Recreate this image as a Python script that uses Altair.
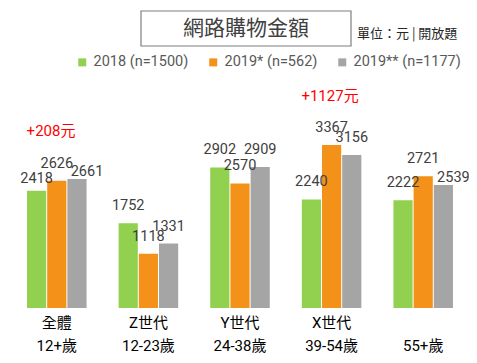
import altair as alt
import pandas as pd

categories = ["全體\n12+歲", "Z世代\n12-23歲", "Y世代\n24-38歲", "X世代\n39-54歲", " \n55+歲"]
series = ["2018 (n=1500)", "2019* (n=562)", "2019** (n=1177)"]
v2018 = [2418, 1752, 2902, 2240, 2222]
v2019a = [2626, 1118, 2570, 3367, 2721]
v2019b = [2661, 1331, 2909, 3156, 2539]
annotations = ["+208元", "", "", "+1127元", ""]
colors = ["#92D050", "#F39119", "#A5A5A5"]

FONT = "Roboto, Noto Sans CJK TC"

rows = []
for i, c in enumerate(categories):
    trio = [v2018[i], v2019a[i], v2019b[i]]
    for k, (s, v) in enumerate(zip(series, trio)):
        # a label is "crowded" when it would collide with the orange label next to it
        crowded = k != 1 and abs(v - trio[1]) < 210
        rows.append({"cat": c, "series": s, "value": v, "k": k, "crowded": crowded})
df = pd.DataFrame(rows)

ann = pd.DataFrame({
    "cat": categories,
    "series": [series[0]] * len(categories),
    "text": annotations,
    "y": [max(a, b, c) + 1000 for a, b, c in zip(v2018, v2019a, v2019b)],
})
ann = ann[ann["text"] != ""]

labels_df = pd.DataFrame({"cat": categories, "y": [0] * len(categories)})

xscale = alt.Scale(domain=categories, paddingInner=0.35, paddingOuter=0.175)
yscale = alt.Scale(domain=[0, 4500])
x = alt.X("cat:N", scale=xscale, axis=None, sort=categories)
xoff = alt.XOffset("series:N", scale=alt.Scale(domain=series, paddingInner=0.05), sort=series)

bars = alt.Chart(df).mark_bar().encode(
    x=x,
    xOffset=xoff,
    y=alt.Y("value:Q", scale=yscale, axis=None),
    color=alt.Color(
        "series:N",
        scale=alt.Scale(domain=series, range=colors),
        legend=alt.Legend(
            title=None,
            orient="none",
            legendX=64,
            legendY=-35,
            padding=0,
            direction="horizontal",
            symbolType="square",
            symbolSize=64,
            symbolStrokeWidth=0,
            labelFontSize=14.5,
            labelColor="#595959",
            labelFont=FONT,
            labelLimit=200,
            columnPadding=17,
            labelOffset=4,
        ),
    ),
)

def value_layer(filt, dx, dy):
    return alt.Chart(df).transform_filter(filt).mark_text(
        baseline="middle", dx=dx, dy=dy, fontSize=14.5, color="#404040", font=FONT
    ).encode(
        x=x,
        xOffset=xoff,
        y=alt.Y("value:Q", scale=yscale),
        text=alt.Text("value:Q", format="d"),
    )

values_normal = value_layer("!datum.crowded", 0, -17)
values_green = value_layer("datum.crowded && datum.k == 0", 0, -12)
values_gray = value_layer("datum.crowded && datum.k == 2", 10, -7)

annot = alt.Chart(ann).mark_text(
    align="left", baseline="middle", dx=-10, fontSize=15, color="#FF0000", font=FONT
).encode(
    x=x,
    xOffset=xoff,
    y=alt.Y("y:Q", scale=yscale),
    text="text:N",
)

catlabels = alt.Chart(labels_df).mark_text(
    baseline="top", dy=8, fontSize=15, color="#000000", font=FONT, lineBreak="\n", lineHeight=23
).encode(
    x=x,
    y=alt.Y("y:Q", scale=yscale),
    text="cat:N",
)

box = alt.Chart(pd.DataFrame({"a": [0]})).mark_rect(
    fill="white", stroke="#7F7F7F", strokeWidth=1.2
).encode(
    x=alt.value(130), x2=alt.value(340), y=alt.value(-79), y2=alt.value(-44)
)

title = alt.Chart(pd.DataFrame({"t": ["網路購物金額"]})).mark_text(
    fontSize=21, color="#404040", font="Noto Sans CJK TC", baseline="middle", align="center"
).encode(x=alt.value(235), y=alt.value(-61), text="t:N")

unit = alt.Chart(pd.DataFrame({"t": ["單位：元 | 開放題"]})).mark_text(
    fontSize=13, color="#262626", font="Noto Sans CJK TC", baseline="middle", align="left"
).encode(x=alt.value(346), y=alt.value(-56), text="t:N")

chart = alt.layer(
    bars, values_normal, values_green, values_gray, annot, catlabels, box, title, unit
).properties(
    width=458,
    height=218,
    padding={"left": 3, "top": 82, "right": 0, "bottom": 47},
    autosize="none",
).configure_view(stroke=None)

chart.save("out.html", embed_options={"renderer": "svg", "actions": False})
